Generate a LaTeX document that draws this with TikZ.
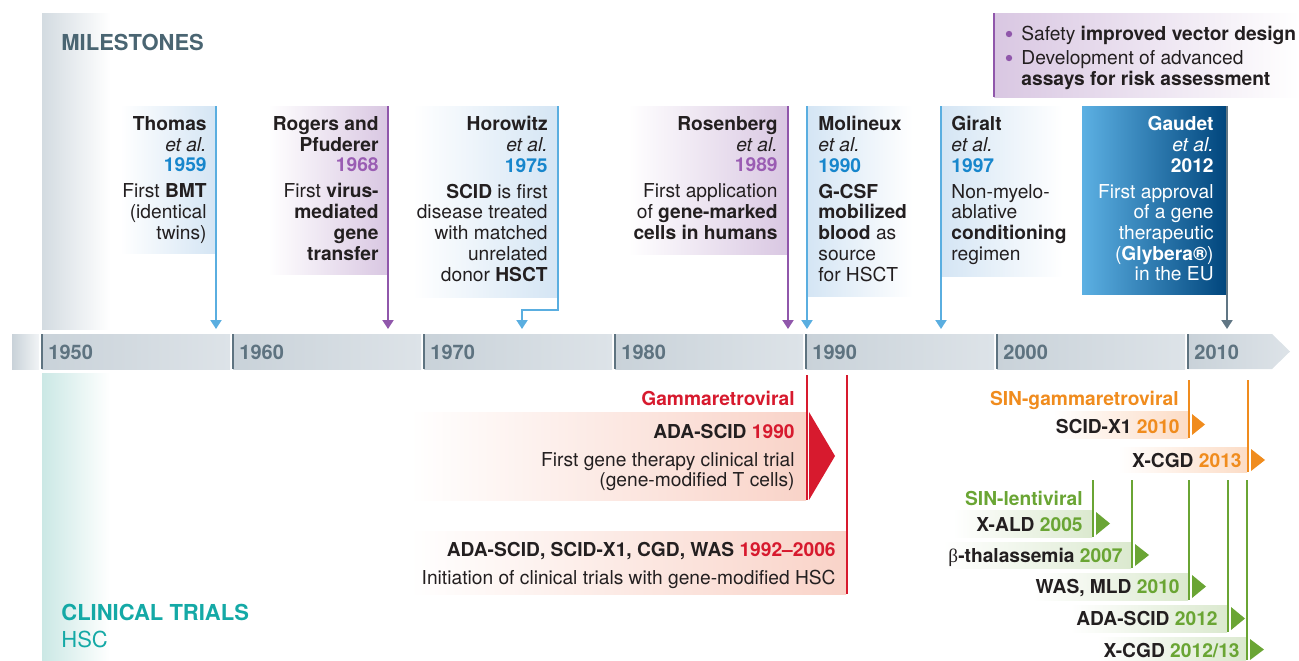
\documentclass[tikz,border=0pt]{standalone}
\usepackage{fontspec}
\setmainfont{TeX Gyre Heros}
\newfontfamily\greekserif{Liberation Serif}
\usepackage{xcolor}
\usepackage{tikz}
\usetikzlibrary{arrows.meta}

\definecolor{ink}{HTML}{231F20}
\definecolor{bandgray}{HTML}{D3DBE1}
\definecolor{bandteal}{HTML}{CBE8E5}
\definecolor{segdark}{HTML}{C9D2D9}
\definecolor{seglight}{HTML}{DDE3E8}
\definecolor{bargray}{HTML}{5E7380}
\definecolor{msgray}{HTML}{4A6572}
\definecolor{lineblue}{HTML}{5AAEE0}
\definecolor{yrblue}{HTML}{1786CC}
\definecolor{boxblue}{HTML}{D4E5F4}
\definecolor{linepurple}{HTML}{9057AB}
\definecolor{yrpurple}{HTML}{9A5DB3}
\definecolor{boxpurple}{HTML}{D9C7E2}
\definecolor{gaudetlight}{HTML}{5CB0E3}
\definecolor{gaudetdark}{HTML}{00457C}
\definecolor{gaudetline}{HTML}{607684}
\definecolor{trred}{HTML}{D71A2E}
\definecolor{boxred}{HTML}{F9D3C8}
\definecolor{trorange}{HTML}{F08C1E}
\definecolor{boxorange}{HTML}{FCDCC6}
\definecolor{trgreen}{HTML}{6AA534}
\definecolor{boxgreen}{HTML}{DBE9CF}
\definecolor{teal}{HTML}{14A9A6}

\newcommand{\bodysize}{\fontsize{9.6}{10.35}\selectfont}

\begin{document}
\begin{tikzpicture}[x=0.5pt,y=-0.5pt]
% Define styles
\tikzstyle{txt} = [inner sep=0, font=\bodysize, text=ink]
\tikzstyle{lefttxt} = [txt, anchor=north west, align=left]
\tikzstyle{righttxt} = [txt, anchor=north east, align=right]
\tikzstyle{trial} = [txt, anchor=base east, font=\bodysize\bfseries]
\tikzstyle{year} = [inner sep=0, anchor=base west, font=\fontsize{10}{12}\selectfont\bfseries, text=bargray]
\tikzstyle{heading} = [inner sep=0, anchor=base west, font=\fontsize{11}{13}\selectfont\bfseries]
\tikzstyle{pin} = [line width=1pt, -{Triangle[width=5.5pt,length=4.5pt]}]
\tikzstyle{stem} = [line width=1pt]
\useasboundingbox (0,0) rectangle (1299,660);
% Background bands
\shade[left color=bandgray, right color=white] (42,13) rectangle (110,329);
\shade[left color=bandteal, right color=white] (42,373) rectangle (110,660);
% Timeline bar
\shade[left color=segdark, right color=seglight!40] (12,334) rectangle (39,369);
\foreach \x in {42,233,424,615,806,997}
  \shade[left color=segdark, right color=seglight] (\x,334) rectangle ++(188,35);
\shade[left color=segdark, right color=seglight] (1188,334) -- (1272,334) -- (1290,351.5) -- (1272,369) -- (1188,369) -- cycle;
\foreach \x/\yr in {42/1950,233/1960,424/1970,615/1980,806/1990,997/2000,1188/2010} {
  \draw[bargray, line width=1pt] (\x,334) -- (\x,369);
  \node[year] (y\yr) at (\x+6,359) {\yr};
}
% Headings
\node[heading, text=msgray] (milestones) at (61,50) {MILESTONES};
\node[heading, text=teal] (clinical) at (61,620) {CLINICAL TRIALS};
\node[inner sep=0, anchor=base west, font=\fontsize{11}{13}\selectfont, text=teal] (hsc) at (61,647) {HSC};
% Milestone boxes
\shade[left color=white, right color=boxblue] (120,106) rectangle (216,253);
\shade[left color=white, right color=boxpurple] (268,106) rectangle (388,274);
\shade[left color=white, right color=boxblue] (413,106) rectangle (558,297);
\shade[left color=white, right color=boxpurple] (628,106) rectangle (788,254);
\shade[left color=boxblue, right color=white] (807,106) rectangle (913,296);
\shade[left color=boxblue, right color=white] (941,106) rectangle (1063,276);
\shade[left color=gaudetlight, right color=gaudetdark] (1082,106) rectangle (1227,294);
\shade[left color=boxpurple, right color=white] (994,13) rectangle (1299,97);
% Milestone nodes
\node[righttxt] (thomas) at (207,116) {\textbf{Thomas}\\\textit{et al.}\\\textcolor{yrblue}{\textbf{1959}}\\[2.7pt]First \textbf{BMT}\\(identical\\twins)};
\node[righttxt] (rogers) at (379,116) {\textbf{Rogers and}\\\textbf{Pfuderer}\\\textcolor{yrpurple}{\textbf{1968}}\\[2.7pt]First \textbf{virus-}\\\textbf{mediated}\\\textbf{gene}\\\textbf{transfer}};
\node[righttxt] (horowitz) at (548,116) {\textbf{Horowitz}\\\textit{et al.}\\\textcolor{yrblue}{\textbf{1975}}\\[2.7pt]\textbf{SCID} is first\\disease treated\\with matched\\unrelated\\donor \textbf{HSCT}};
\node[righttxt] (rosenberg) at (778,116) {\textbf{Rosenberg}\\\textit{et al.}\\\textcolor{yrpurple}{\textbf{1989}}\\[2.7pt]First application\\of \textbf{gene-marked}\\\textbf{cells in humans}};
\node[lefttxt] (molineux) at (818,116) {\textbf{Molineux}\\\textit{et al.}\\\textcolor{yrblue}{\textbf{1990}}\\[2.7pt]\textbf{G-CSF}\\\textbf{mobilized}\\\textbf{blood} as\\source\\for HSCT};
\node[lefttxt] (giralt) at (951,116) {\textbf{Giralt}\\\textit{et al.}\\\textcolor{yrblue}{\textbf{1997}}\\[2.7pt]Non-myelo-\\ablative\\\textbf{conditioning}\\regimen};
\node[righttxt, text=white] (gaudet) at (1214,116) {\textbf{Gaudet}\\\textit{et al.}\\\textbf{2012}\\[2.7pt]First approval\\of a gene\\therapeutic\\(\textbf{Glybera®})\\in the EU};
\node[lefttxt] (safety) at (1021,26) {Safety \textbf{improved vector design}\\[1.6pt]Development of advanced\\\textbf{assays for risk assessment}};
\fill[linepurple] (1009,34) circle (1.6pt);
\fill[linepurple] (1009,58) circle (1.6pt);
% Milestone pins
\coordinate (thomas_top) at (216,106);
\coordinate (thomas_tip) at (216,329);
\coordinate (rogers_top) at (388,106);
\coordinate (rogers_tip) at (388,329);
\coordinate (horowitz_top) at (558,106);
\coordinate (horowitz_bend) at (558,310);
\coordinate (horowitz_tip) at (522,329);
\coordinate (rosenberg_top) at (788,106);
\coordinate (rosenberg_tip) at (788,329);
\coordinate (molineux_top) at (807,106);
\coordinate (molineux_tip) at (807,329);
\coordinate (giralt_top) at (941,106);
\coordinate (giralt_tip) at (941,329);
\coordinate (gaudet_top) at (1227,106);
\coordinate (gaudet_tip) at (1227,329);
\coordinate (safety_top) at (994,13);
\coordinate (safety_bot) at (994,97);
\draw[pin, lineblue] (thomas_top) -- (thomas_tip);
\draw[pin, linepurple] (rogers_top) -- (rogers_tip);
\draw[pin, lineblue] (horowitz_top) -- (horowitz_bend) -| (horowitz_tip);
\draw[pin, linepurple] (rosenberg_top) -- (rosenberg_tip);
\draw[pin, lineblue] (molineux_top) -- (molineux_tip);
\draw[pin, lineblue] (giralt_top) -- (giralt_tip);
\draw[pin, gaudetline] (gaudet_top) -- (gaudet_tip);
\draw[stem, linepurple] (safety_top) -- (safety_bot);
% Gammaretroviral trials
\shade[left color=white, right color=boxred] (410,412) rectangle (806,500);
\shade[left color=white, right color=boxred] (410,531) rectangle (846,594);
\node[trial, text=trred] (gamma) at (795,405) {Gammaretroviral};
\node[righttxt] (ada1990) at (795,423.5) {\textbf{ADA-SCID} \textcolor{trred}{\textbf{1990}}\\[3.65pt]First gene therapy clinical trial\\(gene-modified T cells)};
\node[righttxt] (hsc9206) at (836,541.7) {\textbf{ADA-SCID, SCID-X1, CGD, WAS} \textcolor{trred}{\textbf{1992–2006}}\\[3.65pt]Initiation of clinical trials with gene-modified HSC};
\coordinate (red1_top) at (807,375);
\coordinate (red1_bot) at (807,500);
\coordinate (red2_top) at (847,375);
\coordinate (red2_bot) at (847,594);
\draw[stem, trred] (red1_top) -- (red1_bot);
\draw[stem, trred] (red2_top) -- (red2_bot);
\fill[trred] (809,412) -- (835,456) -- (809,500) -- cycle;
% SIN-gammaretroviral trials
\shade[left color=white, right color=boxorange] (1053,411) rectangle (1188,438);
\shade[left color=white, right color=boxorange] (1118,447) rectangle (1247,472);
\node[trial, text=trorange] (singamma) at (1179,405) {SIN-gammaretroviral};
\node[trial] (scidx1) at (1180,433) {SCID-X1 \textcolor{trorange}{2010}};
\node[trial] (xcgd13) at (1242,467) {X-CGD \textcolor{trorange}{2013}};
\coordinate (or1_top) at (1189,380);
\coordinate (or1_bot) at (1189,438);
\coordinate (or2_top) at (1248,380);
\coordinate (or2_bot) at (1248,472);
\draw[stem, trorange] (or1_top) -- (or1_bot);
\draw[stem, trorange] (or2_top) -- (or2_bot);
\fill[trorange] (1192,414) -- (1205,424.5) -- (1192,435) -- cycle;
\fill[trorange] (1251,449) -- (1265,460) -- (1251,471) -- cycle;
% SIN-lentiviral trials
\shade[left color=white, right color=boxgreen] (953,510) rectangle (1092,537);
\shade[left color=white, right color=boxgreen] (943,542) rectangle (1131,568);
\shade[left color=white, right color=boxgreen] (1033,573) rectangle (1188,600);
\shade[left color=white, right color=boxgreen] (1070,605) rectangle (1227,632);
\shade[left color=white, right color=boxgreen] (1097,637) rectangle (1246,660);
\node[trial, text=trgreen] (sinlenti) at (1083,505) {SIN-lentiviral};
\node[trial] (xald) at (1083,531) {X-ALD \textcolor{trgreen}{2005}};
\node[trial] (bthal) at (1123,562) {{\greekserif\mdseries β}-thalassemia \textcolor{trgreen}{2007}};
\node[trial] (wasmld) at (1180,593) {WAS, MLD \textcolor{trgreen}{2010}};
\node[trial] (ada2012) at (1218,625) {ADA-SCID \textcolor{trgreen}{2012}};
\node[trial] (xcgd1213) at (1240,657) {X-CGD \textcolor{trgreen}{2012/13}};
\coordinate (gr1_top) at (1093,480);
\coordinate (gr1_bot) at (1093,537);
\coordinate (gr2_top) at (1132,480);
\coordinate (gr2_bot) at (1132,568);
\coordinate (gr3_top) at (1189,480);
\coordinate (gr3_bot) at (1189,600);
\coordinate (gr4_top) at (1228,480);
\coordinate (gr4_bot) at (1228,632);
\coordinate (gr5_top) at (1247,480);
\coordinate (gr5_bot) at (1247,660);
\draw[stem, trgreen] (gr1_top) -- (gr1_bot);
\draw[stem, trgreen] (gr2_top) -- (gr2_bot);
\draw[stem, trgreen] (gr3_top) -- (gr3_bot);
\draw[stem, trgreen] (gr4_top) -- (gr4_bot);
\draw[stem, trgreen] (gr5_top) -- (gr5_bot);
\fill[trgreen] (1096,512) -- (1110,523.5) -- (1096,535) -- cycle;
\fill[trgreen] (1135,544) -- (1149,555) -- (1135,566) -- cycle;
\fill[trgreen] (1192,575) -- (1206,586.5) -- (1192,598) -- cycle;
\fill[trgreen] (1231,607) -- (1245,618.5) -- (1231,630) -- cycle;
\fill[trgreen] (1250,639) -- (1264,649.5) -- (1250,660) -- cycle;
\end{tikzpicture}
\end{document}
